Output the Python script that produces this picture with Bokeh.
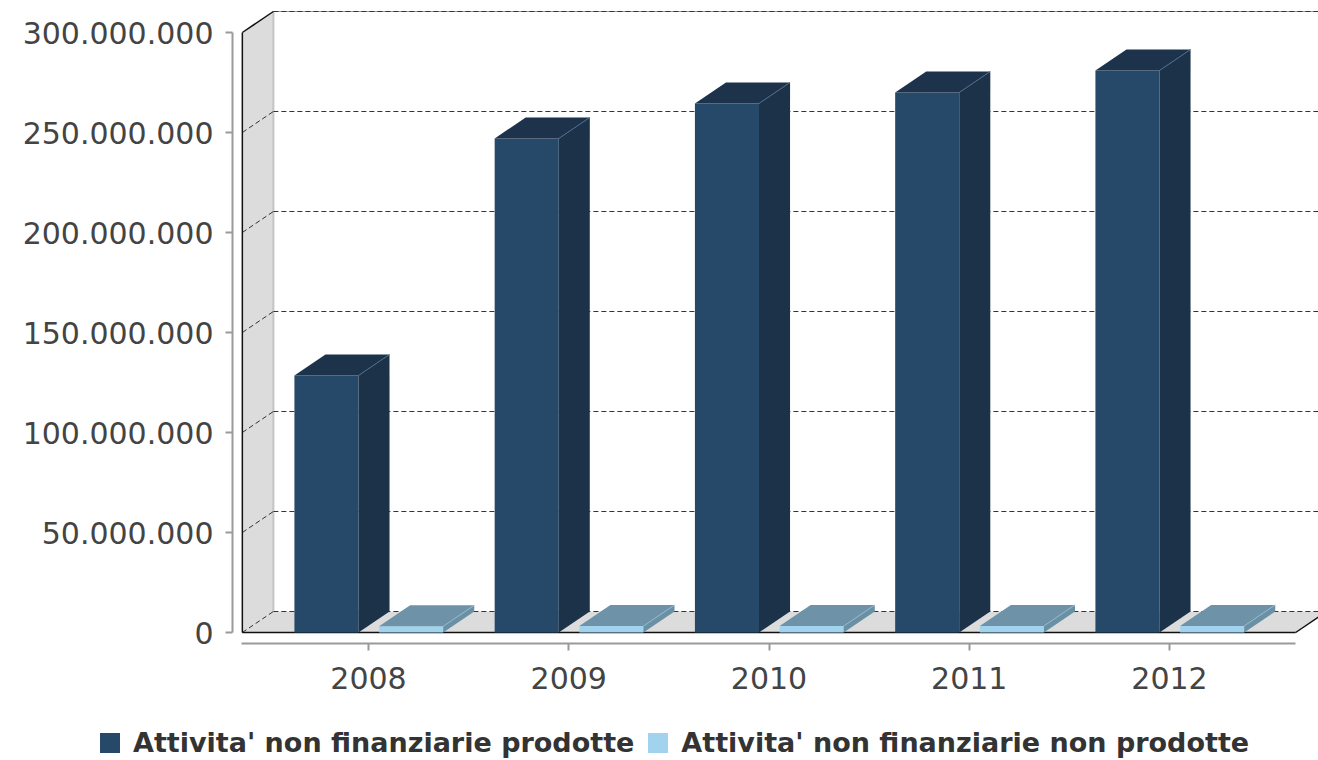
from bokeh.plotting import figure
from bokeh.models import Range1d, FixedTicker, Legend, LegendItem
from bokeh.embed import file_html
from bokeh.resources import INLINE

# ---- data ----
years = ["2008", "2009", "2010", "2011", "2012"]
prodotte = [128500000, 247000000, 264500000, 270000000, 281000000]
non_prodotte = [3100000, 3200000, 3200000, 3300000, 3300000]
y_ticks = [0, 50000000, 100000000, 150000000, 200000000, 250000000, 300000000]
series_names = ["Attivita' non finanziarie prodotte", "Attivita' non finanziarie non prodotte"]

# ---- style / geometry (data units) ----
DX = 0.155          # depth offset along x (category units)
DY = 10500000       # depth offset along y (value units)
X_LO, X_HI = -0.63, 4.63
Y_TOP = y_ticks[-1]
DARK = ("#264969", "#1d334c", "#1c3249", "#4a6a8c")
LIGHT = ("#a2d3ee", "#6e93a8", "#6a90a5", "#94b8cc")

p = figure(width=1318, height=760,
           x_range=Range1d(-1.8377, 4.744), y_range=Range1d(-64000000, 316000000),
           output_backend="svg", toolbar_location=None,
           min_border_left=0, min_border_right=0, min_border_top=0, min_border_bottom=0)
p.grid.visible = False
p.outline_line_color = None
p.background_fill_color = "white"

# floor and left wall
p.patch([X_LO, X_HI, X_HI + DX, X_LO + DX], [0, 0, DY, DY], fill_color="#dcdcdc", line_color=None)
p.patch([X_LO, X_LO + DX, X_LO + DX, X_LO], [0, DY, Y_TOP + DY, Y_TOP], fill_color="#dcdcdc", line_color=None)
p.line([X_LO + DX, X_LO + DX], [DY, Y_TOP + DY], line_color="#c4c4c4", line_width=2)

# grid lines: back wall and left wall
p.line([X_LO + DX, X_HI + DX], [Y_TOP + DY, Y_TOP + DY], line_color="#999999", line_width=1)
p.multi_line([[X_LO + DX, X_HI + DX] for v in y_ticks], [[v + DY, v + DY] for v in y_ticks],
             line_color="#333333", line_width=1, line_dash="5 3")
p.multi_line([[X_LO, X_LO + DX] for v in y_ticks[:-1]], [[v, v + DY] for v in y_ticks[:-1]],
             line_color="#333333", line_width=1, line_dash="5 3")

# solid edges
p.multi_line([[X_LO, X_LO], [X_LO, X_LO + DX], [X_LO, X_HI], [X_HI, X_HI + DX]],
             [[0, Y_TOP], [Y_TOP, Y_TOP + DY], [0, 0], [0, DY]],
             line_color="#111111", line_width=1.5)

legend_renderers = []
for i in range(len(years)):
    for vals, (x0, x1), cols in ((prodotte, (-0.37, -0.05), DARK),
                                  (non_prodotte, (0.053, 0.373), LIGHT)):
        v = vals[i]
        l, r = i + x0, i + x1
        front = p.quad(left=[l], right=[r], bottom=[0], top=[v], fill_color=cols[0], line_color=None)
        p.patch([r, r + DX, r + DX, r], [0, DY, v + DY, v], fill_color=cols[2], line_color=None)
        p.patch([l, r, r + DX, l + DX], [v, v, v + DY, v + DY], fill_color=cols[1], line_color=None)
        p.line([r, r + DX], [v, v + DY], line_color=cols[3], line_width=1)
        if i == 0:
            legend_renderers.append(front)

# axes (drawn at fixed positions inside the frame)
ya = p.yaxis[0]
ya.ticker = FixedTicker(ticks=y_ticks)
ya.major_label_overrides = {v: f"{v:,}".replace(",", ".") for v in y_ticks}
ya.bounds = (0, Y_TOP)
ya.fixed_location = -0.6792
xa = p.xaxis[0]
xa.ticker = FixedTicker(ticks=list(range(len(years))))
xa.major_label_overrides = {i: y for i, y in enumerate(years)}
xa.bounds = (X_LO - 0.005, X_HI)
xa.fixed_location = -5500000
for ax in (xa, ya):
    ax.axis_line_color = "#9a9a9a"
    ax.axis_line_width = 2
    ax.major_tick_line_color = "#9a9a9a"
    ax.major_tick_line_width = 2
    ax.major_tick_out = 7
    ax.major_tick_in = 0
    ax.minor_tick_line_color = None
    ax.major_label_text_font = "DejaVu Sans"
    ax.major_label_text_font_size = "30px"
    ax.major_label_text_color = "#444444"
ya.major_label_standoff = 12
xa.major_label_standoff = 16

legend = Legend(items=[LegendItem(label=series_names[0], renderers=[legend_renderers[0]]),
                       LegendItem(label=series_names[1], renderers=[legend_renderers[1]])],
                orientation="horizontal", location=(97, 2),
                label_text_font="DejaVu Sans", label_text_font_style="bold",
                label_text_font_size="27px", label_text_color="#333333",
                glyph_width=25, glyph_height=25, label_standoff=11, spacing=11,
                padding=0, margin=0, border_line_color=None, background_fill_alpha=0)
p.add_layout(legend, "center")

open("out.html", "w").write(file_html(p, INLINE))
